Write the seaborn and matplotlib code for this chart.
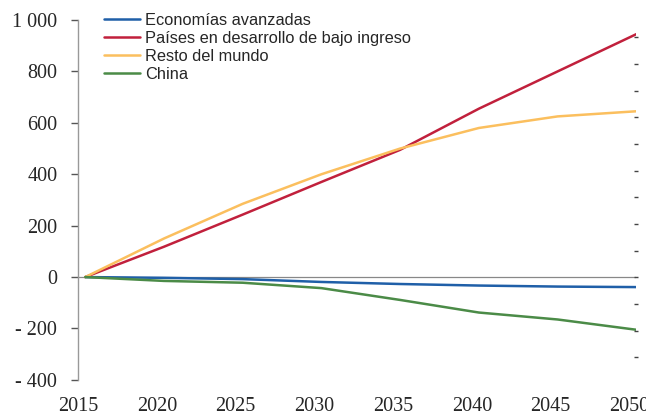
import matplotlib
matplotlib.use('Agg')
import matplotlib.pyplot as plt
import numpy as np
import pandas as pd
import seaborn as sns

years = [2015, 2020, 2025, 2030, 2035, 2040, 2045, 2050]
avanzadas = [0, -3, -8, -19, -27, -33, -37, -39]
bajo_ingreso = [0, 118, 243, 370, 495, 655, 800, 945]
resto_mundo = [0, 150, 285, 400, 500, 580, 625, 645]
china = [0, -15, -22, -43, -89, -138, -165, -205]

series_names = ['Economías avanzadas', 'Países en desarrollo de bajo ingreso',
                'Resto del mundo', 'China']
colors = ['#1f5fa8', '#c1203c', '#fbbf5e', '#4b8b47']

y_ticks = [-400, -200, 0, 200, 400, 600, 800, 1000]
y_labels = ['- 400', '- 200', '0', '200', '400', '600', '800', '1 000']

df = pd.DataFrame({'year': years,
                   series_names[0]: avanzadas,
                   series_names[1]: bajo_ingreso,
                   series_names[2]: resto_mundo,
                   series_names[3]: china})
long = df.melt(id_vars='year', var_name='serie', value_name='valor')

sns.set_style('white')
fig = plt.figure(figsize=(6.46, 4.17), dpi=100)
ax = fig.add_axes([0.121, 0.089, 0.864, 0.863])

ax.axhline(0, color='#888888', linewidth=0.9, zorder=1)
sns.lineplot(data=long, x='year', y='valor', hue='serie', hue_order=series_names,
             palette=colors, linewidth=1.8, ax=ax, zorder=3)

ax.set_xlim(2015, 2050)
ax.set_ylim(-400, 1000)
# year labels sit slightly left of the data points in the original
ax.set_xticks(np.array(years) - 0.45)
ax.set_xticklabels([str(y) for y in years], family='Liberation Serif', fontsize=14.5)
ax.set_yticks(y_ticks)
ax.set_yticklabels(y_labels, family='Liberation Serif', fontsize=14.5)
ax.set_xlabel('')
ax.set_ylabel('')

for s in ['top', 'right', 'bottom']:
    ax.spines[s].set_visible(False)
ax.spines['left'].set_color('#999999')
ax.spines['left'].set_linewidth(1.0)
ax.tick_params(axis='y', left=True, length=5, width=1, color='#555555', pad=10)
ax.tick_params(axis='x', bottom=False, pad=9)

# right-side unlabeled tick marks
ax2 = ax.twinx()
ax2.set_ylim(0, 13.5)
ax2.set_yticks(np.arange(0.85, 13.5, 1))
ax2.set_yticklabels([])
ax2.tick_params(axis='y', right=True, direction='inout', length=3, width=1, color='#444444')
for s in ['top', 'right', 'bottom', 'left']:
    ax2.spines[s].set_visible(False)

leg = ax.legend(loc='upper left', bbox_to_anchor=(0.02, 1.06), frameon=False,
                handlelength=2.2, handletextpad=0.3, labelspacing=0.17,
                prop={'family': 'Liberation Sans', 'size': 11.8})
for line in leg.get_lines():
    line.set_linewidth(1.8)

fig.savefig('out.png', dpi=100)
